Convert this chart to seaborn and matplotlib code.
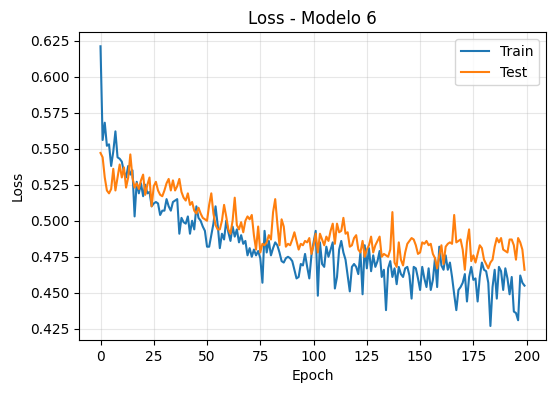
import numpy as np
import pandas as pd
import matplotlib
matplotlib.use("Agg")
import matplotlib.pyplot as plt
import seaborn as sns

# Loss per epoch
train_loss = [
    0.621, 0.556, 0.568, 0.552, 0.553, 0.538, 0.548, 0.562, 0.544, 0.543,
    0.541, 0.534, 0.530, 0.538, 0.532, 0.535, 0.503, 0.527, 0.519, 0.526,
    0.517, 0.525, 0.519, 0.520, 0.510, 0.512, 0.513, 0.512, 0.504, 0.507,
    0.507, 0.515, 0.510, 0.507, 0.513, 0.514, 0.515, 0.491, 0.502, 0.499,
    0.498, 0.503, 0.491, 0.500, 0.494, 0.510, 0.502, 0.500, 0.496, 0.493,
    0.482, 0.482, 0.490, 0.498, 0.510, 0.497, 0.481, 0.491, 0.487, 0.500,
    0.492, 0.486, 0.496, 0.489, 0.494, 0.485, 0.490, 0.484, 0.486, 0.476,
    0.481, 0.475, 0.480, 0.476, 0.479, 0.474, 0.457, 0.493, 0.478, 0.486,
    0.476, 0.481, 0.485, 0.483, 0.478, 0.472, 0.471, 0.474, 0.475, 0.474,
    0.472, 0.466, 0.460, 0.461, 0.470, 0.469, 0.477, 0.468, 0.460, 0.476,
    0.485, 0.493, 0.448, 0.485, 0.470, 0.468, 0.482, 0.475, 0.480, 0.485,
    0.453, 0.461, 0.480, 0.486, 0.478, 0.473, 0.462, 0.451, 0.468, 0.470,
    0.468, 0.463, 0.478, 0.449, 0.483, 0.467, 0.481, 0.465, 0.476, 0.468,
    0.472, 0.479, 0.461, 0.466, 0.438, 0.467, 0.472, 0.461, 0.467, 0.456,
    0.468, 0.463, 0.461, 0.467, 0.468, 0.462, 0.446, 0.468, 0.467, 0.460,
    0.452, 0.468, 0.460, 0.454, 0.467, 0.452, 0.459, 0.474, 0.454, 0.482,
    0.469, 0.466, 0.476, 0.466, 0.471, 0.461, 0.449, 0.438, 0.452, 0.454,
    0.457, 0.463, 0.444, 0.461, 0.468, 0.459, 0.460, 0.444, 0.461, 0.471,
    0.466, 0.465, 0.457, 0.427, 0.454, 0.466, 0.446, 0.468, 0.465, 0.452,
    0.467, 0.460, 0.449, 0.461, 0.437, 0.436, 0.431, 0.462, 0.457, 0.455,
]
test_loss = [
    0.547, 0.544, 0.530, 0.521, 0.519, 0.522, 0.536, 0.521, 0.530, 0.539,
    0.530, 0.537, 0.523, 0.530, 0.546, 0.530, 0.523, 0.526, 0.522, 0.528,
    0.532, 0.518, 0.525, 0.530, 0.510, 0.524, 0.527, 0.521, 0.518, 0.517,
    0.521, 0.526, 0.529, 0.521, 0.528, 0.521, 0.524, 0.529, 0.520, 0.516,
    0.514, 0.519, 0.511, 0.513, 0.507, 0.505, 0.509, 0.505, 0.502, 0.501,
    0.500, 0.511, 0.519, 0.505, 0.497, 0.494, 0.494, 0.500, 0.511, 0.503,
    0.494, 0.491, 0.500, 0.516, 0.497, 0.494, 0.499, 0.492, 0.500, 0.503,
    0.501, 0.504, 0.490, 0.480, 0.496, 0.478, 0.484, 0.483, 0.485, 0.490,
    0.487, 0.506, 0.515, 0.498, 0.483, 0.501, 0.496, 0.482, 0.484, 0.483,
    0.487, 0.492, 0.486, 0.480, 0.484, 0.483, 0.486, 0.485, 0.488, 0.477,
    0.483, 0.491, 0.478, 0.491, 0.487, 0.483, 0.489, 0.486, 0.493, 0.498,
    0.484, 0.498, 0.492, 0.493, 0.502, 0.491, 0.492, 0.482, 0.483, 0.488,
    0.490, 0.480, 0.478, 0.486, 0.475, 0.480, 0.483, 0.489, 0.478, 0.483,
    0.486, 0.489, 0.475, 0.477, 0.476, 0.475, 0.480, 0.506, 0.471, 0.468,
    0.485, 0.473, 0.469, 0.478, 0.484, 0.486, 0.488, 0.487, 0.483, 0.477,
    0.478, 0.485, 0.484, 0.486, 0.483, 0.484, 0.477, 0.474, 0.467, 0.476,
    0.483, 0.470, 0.482, 0.484, 0.485, 0.484, 0.504, 0.485, 0.486, 0.487,
    0.480, 0.466, 0.485, 0.494, 0.472, 0.476, 0.471, 0.477, 0.483, 0.481,
    0.473, 0.470, 0.467, 0.471, 0.473, 0.482, 0.488, 0.485, 0.488, 0.480,
    0.479, 0.478, 0.487, 0.487, 0.483, 0.473, 0.488, 0.485, 0.480, 0.466,
]
epochs = np.arange(len(train_loss))

# long format for seaborn
df = pd.DataFrame({
    "Epoch": np.concatenate([epochs, epochs]),
    "Loss": train_loss + test_loss,
    "set": ["Train"] * len(train_loss) + ["Test"] * len(test_loss),
})

fig, ax = plt.subplots(figsize=(5.53, 3.93), dpi=100)
fig.subplots_adjust(left=0.1434, right=0.9868, top=0.9178, bottom=0.1349)

sns.lineplot(data=df, x="Epoch", y="Loss", hue="set", ax=ax,
             palette=["#1f77b4", "#ff7f0e"], linewidth=1.5)

ax.set_title("Loss - Modelo 6")
ax.set_xlabel("Epoch")
ax.set_ylabel("Loss")
ax.set_xticks([0, 25, 50, 75, 100, 125, 150, 175, 200])
ax.grid(True, alpha=0.3)
ax.legend(loc="upper right", title=None)

fig.savefig("out.png", dpi=100)
